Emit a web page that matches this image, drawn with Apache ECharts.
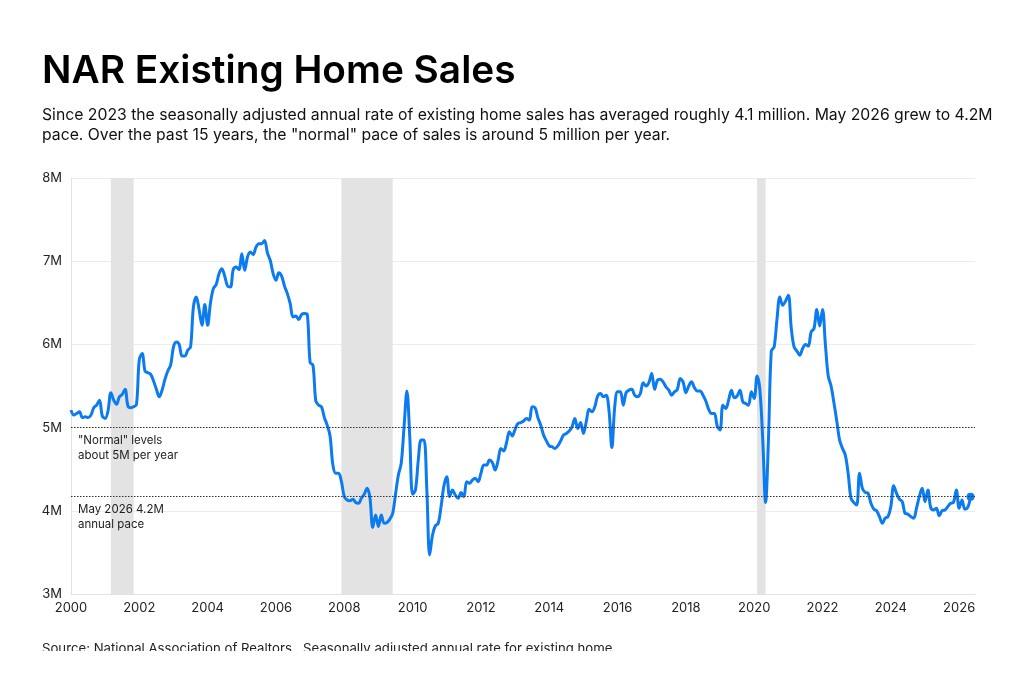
<!DOCTYPE html>
<html>
<head>
<meta charset="utf-8">
<title>NAR Existing Home Sales</title>
<script src="https://cdn.jsdelivr.net/npm/echarts@6.0.0/dist/echarts.min.js"></script>
<style>
  html, body { margin: 0; padding: 0; background: #fff; }
  #chart { width: 1020px; height: 651px; overflow: hidden; }
</style>
</head>
<body>
<div id="chart"></div>
<script>
// seasonally adjusted annual rate, millions of homes, monthly from Jan 2000
var startYear = 2000
var sales = [
  5.21, 5.15, 5.17, 5.19, 5.12, 5.13, 5.12, 5.15, 5.24, 5.27, 5.33, 5.14, // 2000
  5.11, 5.20, 5.42, 5.33, 5.28, 5.37, 5.40, 5.46, 5.26, 5.24, 5.25, 5.28, // 2001
  5.82, 5.89, 5.68, 5.66, 5.64, 5.56, 5.46, 5.37, 5.45, 5.58, 5.68, 5.75, // 2002
  5.97, 6.03, 6.00, 5.86, 5.86, 5.93, 5.97, 6.45, 6.57, 6.42, 6.23, 6.48, // 2003
  6.23, 6.50, 6.67, 6.72, 6.85, 6.91, 6.82, 6.70, 6.69, 6.90, 6.93, 6.90, // 2004
  7.09, 6.89, 7.05, 7.11, 7.08, 7.17, 7.21, 7.21, 7.25, 7.10, 7.01, 6.85, // 2005
  6.77, 6.86, 6.82, 6.70, 6.61, 6.49, 6.33, 6.34, 6.30, 6.36, 6.37, 6.36, // 2006
  5.78, 5.75, 5.32, 5.27, 5.25, 5.12, 5.03, 4.90, 4.55, 4.45, 4.45, 4.35, // 2007
  4.17, 4.13, 4.12, 4.14, 4.10, 4.09, 4.15, 4.20, 4.27, 4.16, 3.80, 3.95, // 2008
  3.81, 3.95, 3.85, 3.86, 3.90, 3.97, 4.20, 4.43, 4.57, 5.01, 5.44, 4.89, // 2009
  4.20, 4.25, 4.61, 4.85, 4.85, 4.25, 3.47, 3.71, 3.82, 3.85, 4.05, 4.30, // 2010
  4.41, 4.17, 4.25, 4.19, 4.15, 4.22, 4.17, 4.35, 4.33, 4.37, 4.39, 4.35, // 2011
  4.45, 4.55, 4.55, 4.61, 4.58, 4.49, 4.60, 4.75, 4.72, 4.82, 4.95, 4.90, // 2012
  4.98, 5.05, 5.06, 5.08, 5.11, 5.09, 5.25, 5.24, 5.12, 5.03, 4.91, 4.84, // 2013
  4.78, 4.77, 4.75, 4.78, 4.84, 4.91, 4.93, 4.96, 5.01, 5.11, 4.99, 5.06, // 2014
  4.93, 5.07, 5.22, 5.19, 5.25, 5.38, 5.41, 5.37, 5.39, 5.20, 4.76, 5.25, // 2015
  5.43, 5.43, 5.27, 5.42, 5.45, 5.46, 5.39, 5.37, 5.41, 5.54, 5.50, 5.54, // 2016
  5.65, 5.46, 5.57, 5.58, 5.55, 5.49, 5.45, 5.39, 5.43, 5.46, 5.59, 5.55, // 2017
  5.42, 5.50, 5.55, 5.48, 5.44, 5.44, 5.39, 5.32, 5.22, 5.17, 5.17, 5.02, // 2018
  4.97, 5.27, 5.23, 5.33, 5.45, 5.36, 5.38, 5.45, 5.31, 5.29, 5.27, 5.43, // 2019
  5.35, 5.62, 5.45, 4.85, 4.10, 4.85, 5.92, 5.97, 6.30, 6.57, 6.47, 6.52, // 2020
  6.59, 6.20, 5.97, 5.92, 5.87, 5.95, 6.00, 5.98, 6.15, 6.19, 6.42, 6.22, // 2021
  6.42, 6.00, 5.62, 5.50, 5.30, 5.08, 4.85, 4.75, 4.67, 4.45, 4.15, 4.10, // 2022
  4.07, 4.45, 4.27, 4.22, 4.21, 4.09, 4.02, 4.00, 3.93, 3.85, 3.91, 3.93, // 2023
  4.05, 4.30, 4.21, 4.14, 4.11, 3.97, 3.96, 3.93, 3.91, 4.03, 4.17, 4.27, // 2024
  4.11, 4.25, 4.04, 4.01, 4.03, 3.94, 4.00, 4.01, 4.05, 4.09, 4.10, 4.25, // 2025
  4.03, 4.13, 4.02, 4.04, 4.17                                            // 2026
]

// recessions, [start, end] as decimal years
var recessions = [
  [2001 + 2 / 12, 2001 + 10 / 12],
  [2007 + 11 / 12, 2009 + 5 / 12],
  [2020 + 1 / 12, 2020 + 4 / 12]
]

var xTicks = [2000, 2026] // first and last labelled year, every 2 years
var yTicks = [3, 8]       // millions
var normalLevel = 5

var points = sales.map(function(v, i) {
  return [startYear + i / 12, v]
})
var last = points[points.length - 1]

var font = 'Inter, "Noto Sans", sans-serif'

var chart = echarts.init(document.getElementById('chart'))
chart.setOption({
  animation: false,
  textStyle: { fontFamily: font },
  title: {
    text: 'NAR Existing Home Sales',
    subtext: 'Since 2023 the seasonally adjusted annual rate of existing home sales has averaged roughly 4.1 million. May 2026 grew to 4.2M\npace. Over the past 15 years, the "normal" pace of sales is around 5 million per year.',
    left: 42,
    top: 48,
    padding: 0,
    itemGap: 10,
    textStyle: {
      fontFamily: font,
      fontSize: 38.8,
      fontWeight: 600,
      lineHeight: 47,
      color: '#000'
    },
    subtextStyle: {
      fontFamily: font,
      fontSize: 15.75,
      lineHeight: 20,
      color: '#111'
    }
  },
  graphic: [
    {
      type: 'text',
      left: 42,
      top: 643,
      style: {
        text: 'Source: National Association of Realtors . Seasonally adjusted annual rate for existing home',
        font: '13.2px ' + font,
        fill: '#222'
      }
    }
  ],
  grid: {
    left: 71,
    right: 45,
    top: 178,
    bottom: 57
  },
  xAxis: {
    type: 'value',
    min: xTicks[0],
    max: last[0] + 0.13,
    interval: 2,
    axisLine: { lineStyle: { color: '#e2e2e2' } },
    axisTick: { show: false },
    splitLine: { show: false },
    axisLabel: {
      color: '#222',
      fontSize: 13,
      margin: 8,
      showMaxLabel: false,
      formatter: function(v) {
        return v <= xTicks[1] ? String(v) : ''
      }
    }
  },
  yAxis: {
    type: 'value',
    min: yTicks[0],
    max: yTicks[1],
    interval: 1,
    axisLine: { show: true, lineStyle: { color: '#e2e2e2' } },
    axisTick: { show: false },
    splitLine: { lineStyle: { color: '#ececec' } },
    axisLabel: {
      color: '#222',
      fontSize: 13,
      margin: 9,
      formatter: '{value}M'
    }
  },
  series: [
    {
      name: 'Existing home sales',
      type: 'line',
      data: points,
      showSymbol: false,
      smooth: 0.35,
      lineStyle: { color: '#0b7bef', width: 3 },
      z: 3,
      markArea: {
        silent: true,
        itemStyle: { color: '#e3e3e3' },
        data: recessions.map(function(r) {
          return [{ xAxis: r[0] }, { xAxis: r[1] }]
        })
      },
      markLine: {
        silent: true,
        symbol: 'none',
        lineStyle: { color: '#333', width: 1, type: [1.5, 1.5] },
        label: {
          position: 'insideStartBottom',
          distance: [7, 5],
          color: '#222',
          fontSize: 11.5,
          lineHeight: 15,
          align: 'left'
        },
        data: [
          { yAxis: normalLevel, label: { formatter: '"Normal" levels\nabout 5M per year' } },
          { yAxis: last[1], label: { formatter: 'May 2026 4.2M\nannual pace' } }
        ]
      }
    },
    {
      // end point dot
      type: 'scatter',
      data: [last],
      symbolSize: 8,
      itemStyle: { color: '#0b7bef', opacity: 1 },
      z: 4
    }
  ]
})
</script>
</body>
</html>
